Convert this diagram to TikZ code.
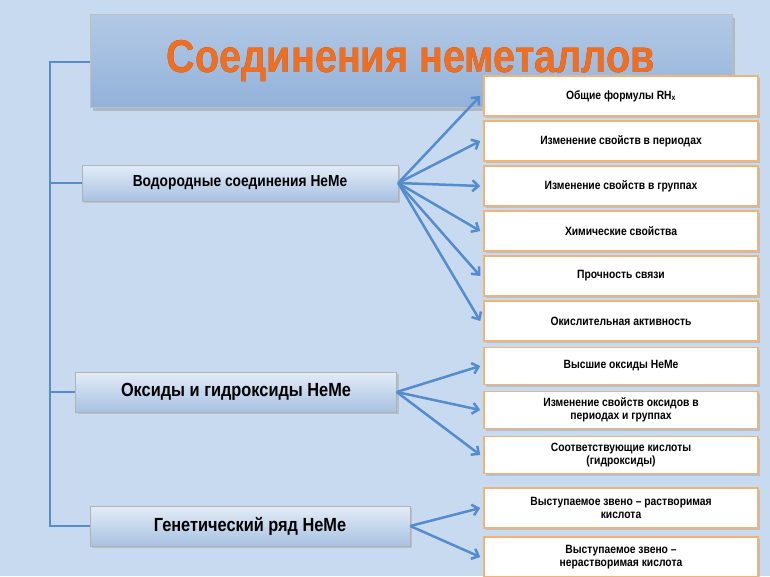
\documentclass[tikz,border=0pt]{standalone}
\usepackage{fontspec}
\setmainfont{Liberation Sans}[FakeStretch=0.86]
\usepackage[outline]{contour}
\contourlength{1.2pt}
\usetikzlibrary{shadows,positioning,arrows.meta}
\definecolor{bgBlue}{RGB}{199,218,240}
\definecolor{titleBlue}{RGB}{146,178,218}
\definecolor{lineBlue}{RGB}{84,140,205}
\definecolor{boxEdge}{RGB}{240,180,120}
\definecolor{titleOrange}{RGB}{240,110,30}
\definecolor{titleEdge}{RGB}{150,60,20}

\begin{document}
\begin{tikzpicture}[x=1pt, y=-1pt,
  topicStyle/.style={draw=gray!60, top color=bgBlue!50!white, bottom color=titleBlue!80, minimum height=36pt, font=\bfseries\fontsize{16}{18}\selectfont, drop shadow={shadow xshift=2pt, shadow yshift=-2pt, fill=black!35}},
  itemStyle/.style={draw=boxEdge, line width=1.5pt, fill=white, minimum width=274pt, minimum height=40pt, align=center, font=\bfseries\fontsize{12}{13}\selectfont, drop shadow={shadow xshift=2pt, shadow yshift=-2pt, fill=black!35}},
  linkStyle/.style={lineBlue, line width=2.5pt},
  arrowStyle/.style={lineBlue, line width=2.5pt, -{Straight Barb[length=6pt, width=11pt]}}
]
\fill [bgBlue] (0,0) rectangle (770,576);
\useasboundingbox (0,0) rectangle (770,576);

% title
\node [draw=gray!50, top color=titleBlue!70!white, bottom color=titleBlue, minimum width=642pt, minimum height=93pt, drop shadow={shadow xshift=3pt, shadow yshift=-3pt, fill=black!40}] (title) at (411,61) {};
\node at (title) {\fontsize{46}{50}\selectfont\bfseries\contour{titleEdge}{\textcolor{titleOrange}{Соединения неметаллов}}};

% topics
\node [topicStyle, minimum width=316pt] (hydro) at (240,183) {Водородные соединения НеМе};
\node [topicStyle, minimum width=321pt, minimum height=40pt, font=\bfseries\fontsize{19}{21}\selectfont] (oxide) at (236,392) {Оксиды и гидроксиды НеМе};
\node [topicStyle, minimum width=320pt, minimum height=40pt, font=\bfseries\fontsize{19}{21}\selectfont] (gene) at (250,526) {Генетический ряд НеМе};

% items
\node [itemStyle] (formula)  at (621,96)  {Общие формулы RH\textsubscript{x}};
\node [itemStyle] (period)   at (621,141) {Изменение свойств в периодах};
\node [itemStyle] (group)    at (621,186) {Изменение свойств в группах};
\node [itemStyle] (chem)     at (621,231) {Химические свойства};
\node [itemStyle] (bond)     at (621,276) {Прочность связи};
\node [itemStyle] (oxid)     at (621,321) {Окислительная активность};
\node [itemStyle, minimum height=37pt] (higher)   at (621,366) {Высшие оксиды НеМе};
\node [itemStyle, minimum height=37pt] (change)   at (621,410) {Изменение свойств оксидов в\\периодах и группах};
\node [itemStyle, minimum height=37pt] (acid)     at (621,455) {Соответствующие кислоты\\(гидроксиды)};
\node [itemStyle] (soluble)  at (621,508) {Выступаемое звено – растворимая\\кислота};
\node [itemStyle] (insol)    at (621,557) {Выступаемое звено –\\нерастворимая кислота};

% trunk
\coordinate (trunkTop) at (50,62);
\coordinate (trunkBot) at (50,526);
\draw [linkStyle] (title.west |- trunkTop) -- (trunkTop) -- (trunkBot) -- (gene.west);
\draw [linkStyle] (hydro.west) -- (hydro.west -| trunkTop);
\draw [linkStyle] (oxide.west) -- (oxide.west -| trunkTop);

% arrows
\foreach \target in {formula, period, group, chem, bond, oxid}
  \draw [arrowStyle] (hydro.east) -- ([xshift=-3pt]\target.west);
\foreach \target in {higher, change, acid}
  \draw [arrowStyle] (oxide.east) -- ([xshift=-3pt]\target.west);
\foreach \target in {soluble, insol}
  \draw [arrowStyle] (gene.east) -- ([xshift=-3pt]\target.west);
\end{tikzpicture}
\end{document}
